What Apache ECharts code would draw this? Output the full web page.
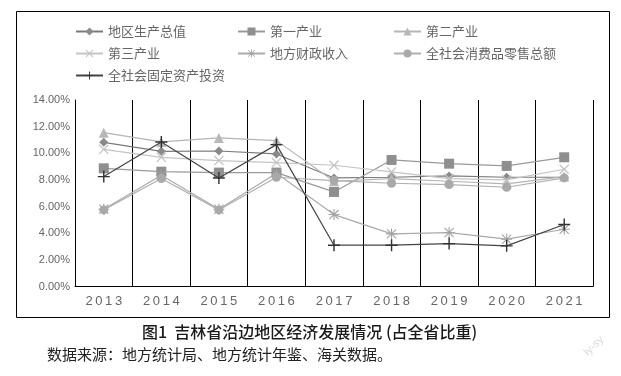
<!DOCTYPE html>
<html><head><meta charset="utf-8">
<script src="https://cdn.jsdelivr.net/npm/echarts@6/dist/echarts.min.js"></script>
<style>html,body{margin:0;padding:0;background:#fff;}#c{width:621px;height:376px;}</style>
</head><body><div id="c"></div>
<script>
const years = ['2013','2014','2015','2016','2017','2018','2019','2020','2021'];
const yTicks = [0,2,4,6,8,10,12,14];
const gdp = [10.82, 10.15, 10.17, 9.95, 8.15, 8.2, 8.3, 8.2, 8.2];
const primary = [8.87, 8.62, 8.55, 8.55, 7.1, 9.5, 9.22, 9.05, 9.7];
const secondary = [11.55, 10.85, 11.15, 10.95, 7.9, 8.1, 7.9, 7.7, 8.25];
const tertiary = [10.3, 9.7, 9.45, 9.3, 9.1, 8.6, 8.1, 8.0, 8.8];
const fiscal = [5.8, 8.35, 5.8, 8.5, 5.4, 3.95, 4.05, 3.55, 4.3];
const retail = [5.75, 8.1, 5.75, 8.2, 7.95, 7.75, 7.65, 7.45, 8.15];
const invest = [8.25, 10.85, 8.15, 10.65, 3.1, 3.1, 3.22, 3.05, 4.65];
const names = ['地区生产总值','第一产业','第二产业','第三产业','地方财政收入','全社会消费品零售总额','全社会固定资产投资'];

const PLUS = 'path://M4.4,0H5.6V4.4H10V5.6H5.6V10H4.4V5.6H0V4.4H4.4Z';
const XS = 'path://M0,0.9L0.9,0L10,9.1L9.1,10Z M9.1,0L10,0.9L0.9,10L0,9.1Z';
const AST = 'path://M4.5,0H5.5V4.5H10V5.5H5.5V10H4.5V5.5H0V4.5H4.5Z M0.5,1.2L1.2,0.5L9.5,8.8L8.8,9.5Z M8.8,0.5L9.5,1.2L1.2,9.5L0.5,8.8Z';

const specs = [
  {d: gdp, sym:'diamond', size:9, mc:'#8a8a8a', lc:'#7a7a7a'},
  {d: primary, sym:'rect', size:10, mc:'#8f8f8f', lc:'#9a9a9a'},
  {d: secondary, sym:'triangle', size:10, mc:'#b8b8b8', lc:'#b5b5b5'},
  {d: tertiary, sym:XS, size:10, mc:'#c4c4c4', lc:'#c4c4c4'},
  {d: fiscal, sym:AST, size:11, mc:'#a3a3a3', lc:'#aaaaaa'},
  {d: retail, sym:'circle', size:9, mc:'#a9a9a9', lc:'#b0b0b0'},
  {d: invest, sym:PLUS, size:12, mc:'#333333', lc:'#444444'}
];

const series = specs.map((s,i)=>({
  name: names[i], type:'line', data: s.d, symbol: s.sym, symbolSize: s.size,
  showAllSymbol:true,
  itemStyle:{color:s.mc}, lineStyle:{color:s.lc, width:1.2},
  z: 2+i
}));

const legPos = [[75,25],[237,25],[393,25],[75,47],[237,47],[393,47],[75,69]];
const legends = names.map((n,i)=>({
  data:[n], left: legPos[i][0], top: legPos[i][1], padding:0, itemWidth:27, itemHeight:10, itemGap:4,
  textStyle:{fontSize:13, color:'#666', fontFamily:'Noto Sans CJK SC'}
}));

const chart = echarts.init(document.getElementById('c'), null, {renderer:'canvas'});
chart.setOption({
  animation:false,
  backgroundColor:'#fff',
  legend: legends,
  grid:{left:75, right:28, top:100, bottom:89.5, containLabel:false},
  xAxis:{type:'category', data: years, boundaryGap:true,
    axisLine:{lineStyle:{color:'#000', width:1}}, axisTick:{show:false},
    splitLine:{show:true, interval:0, lineStyle:{color:'#000', width:1}},
    axisLabel:{color:'#666', fontSize:13, margin:8, fontFamily:'Liberation Sans',
      formatter: v=>v.split('').join('\u2009')}},
  yAxis:{type:'value', min:yTicks[0], max:yTicks[yTicks.length-1], interval:2,
    axisLine:{show:true, lineStyle:{color:'#000', width:1}}, axisTick:{show:false},
    splitLine:{show:false},
    axisLabel:{color:'#666', fontSize:11, margin:5, fontFamily:'Liberation Sans', formatter: v=>v.toFixed(2)+'%'}},
  series: series,
  graphic:[
    {type:'rect', shape:{x:16.5, y:11.5, width:593, height:306}, style:{fill:'none', stroke:'#000', lineWidth:1}, z:-1},
    {type:'text', x:142, y:324, style:{text:'图1  吉林省沿边地区经济发展情况 (占全省比重)', fontSize:16, fontWeight:500, fill:'#1a1a1a', fontFamily:'Noto Sans CJK SC'}},
    {type:'text', x:47, y:347, style:{text:'数据来源：地方统计局、地方统计年鉴、海关数据。', fontSize:15, fill:'#222', fontFamily:'Noto Sans CJK SC'}},
    {type:'text', x:582, y:350, rotation:Math.PI/4, style:{text:'ly-sy', fontSize:11, fill:'#d8d8d8', fontFamily:'Liberation Sans'}}
  ]
});
</script></body></html>
